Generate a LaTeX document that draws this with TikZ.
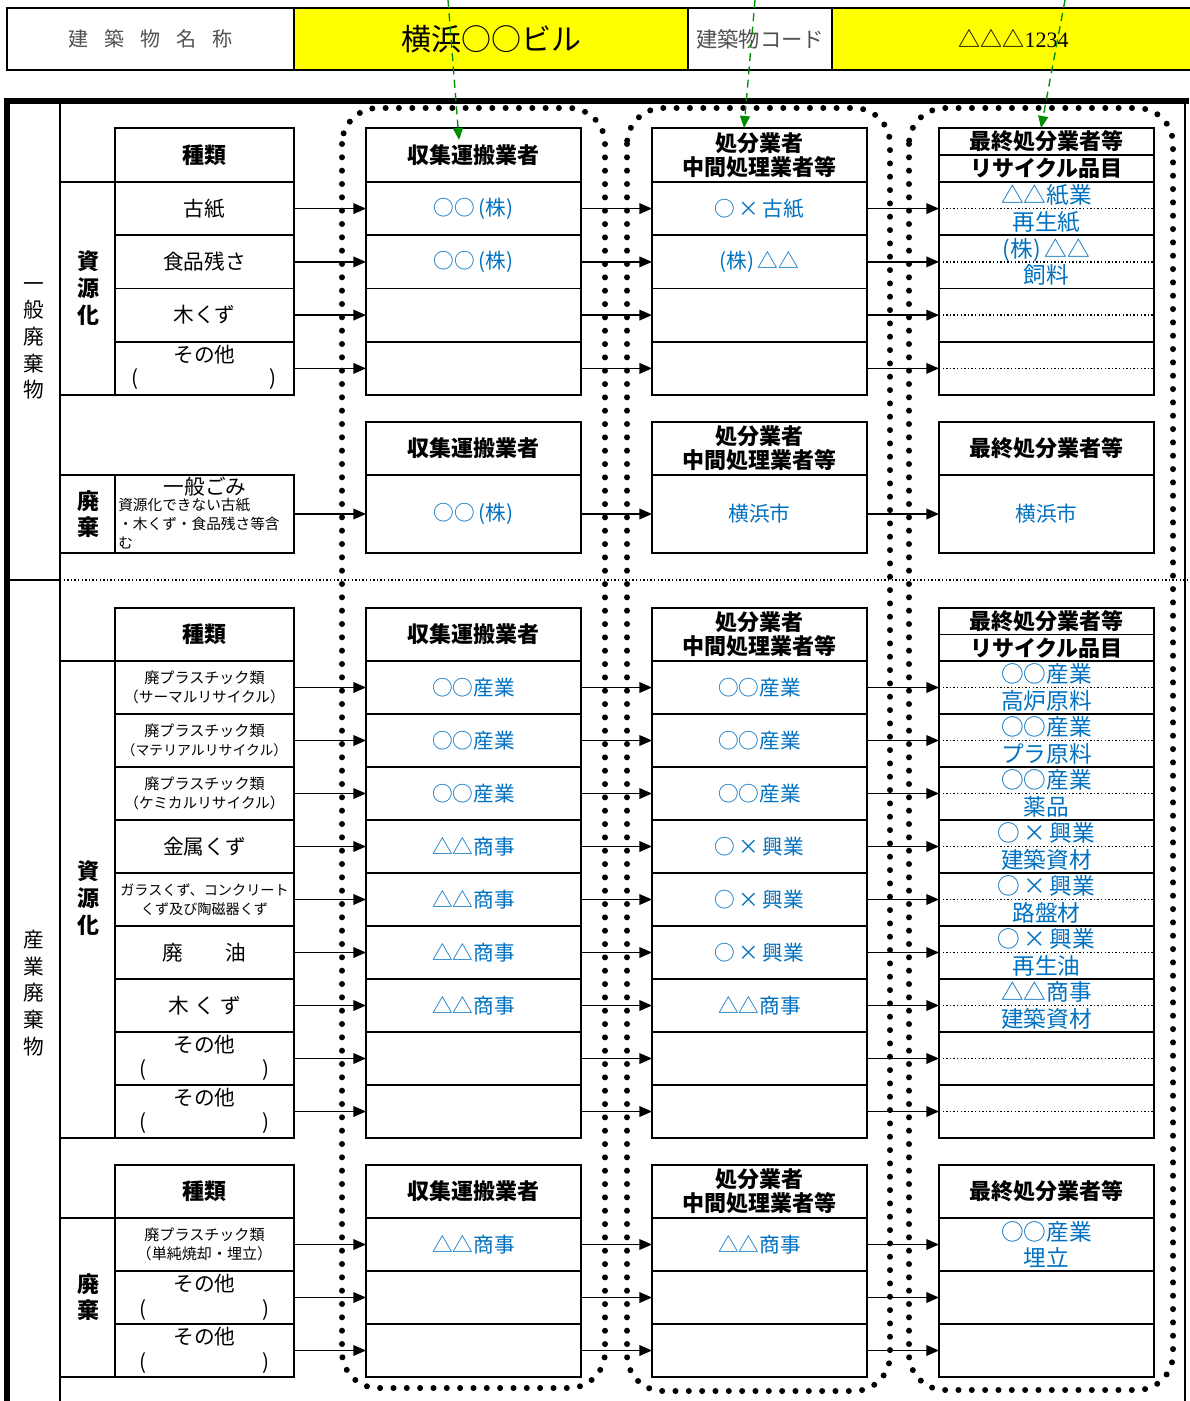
\documentclass[tikz,border=0pt]{standalone}
\usepackage{fontspec}
\setmainfont{Noto Sans CJK JP}
\newfontfamily\serifdigits{Liberation Serif}
\usetikzlibrary{arrows.meta}
\definecolor{jblue}{RGB}{0,112,192}
\definecolor{jgreen}{RGB}{0,140,0}
\definecolor{jyellow}{RGB}{255,255,0}
\definecolor{jgray}{RGB}{80,80,80}
\newcommand{\kb}{(株)}
\newcommand{\mx}{\hspace{2.5pt}×\hspace{2.5pt}}
\begin{document}
\begin{tikzpicture}[x=0.75pt,y=-0.75pt,
  tbl/.style={draw, line width=1.4pt, inner sep=0pt, outer sep=0pt, align=center, font=\fontsize{15.5}{19}\selectfont},
  tcol/.style={tbl, minimum width=134.25pt},
  ocol/.style={tbl, minimum width=161.25pt},
  rA/.style={minimum height=39.94pt},
  rn/.style={minimum height=39.75pt},
  rh/.style={minimum height=40.5pt},
  rB/.style={minimum height=58.5pt},
  hd/.style={font=\bfseries\fontsize{16.5}{18}\selectfont},
  hd2/.style={font=\bfseries\fontsize{16.5}{20.25}\selectfont},
  bl/.style={text=jblue},
  bl2/.style={text=jblue, font=\fontsize{17}{19.9}\selectfont},
  sm/.style={font=\fontsize{11.3}{14.25}\selectfont},
  midline/.style={line width=1pt, dash pattern=on 1.1pt off 1.6pt},
  flow/.style={line width=1.1pt, -{Triangle[length=9.5pt,width=8pt]}},
  dotframe/.style={line width=4.5pt, dash pattern=on 0pt off 10pt, line cap=round, rounded corners=27pt},
  gflow/.style={jgreen, line width=1pt, dash pattern=on 6pt off 4pt, -{Triangle[length=9pt,width=7.5pt]}},
  lbl/.style={inner sep=0pt, align=center, font=\fontsize{15.5}{20}\selectfont},
  vlb/.style={inner sep=0pt, align=center, font=\bfseries\fontsize{16.5}{20}\selectfont},
  hcell/.style={draw, line width=1.4pt, inner sep=0pt, outer sep=0pt, minimum height=46.5pt, align=center}
]
\useasboundingbox (0,0) rectangle (1189,1401);

% ---------- header ----------
\node[hcell, minimum width=215.25pt, text=jgray, font=\fontsize{15}{18}\selectfont] (hName) at (150.5,39) {建\hspace{12pt}築\hspace{12pt}物\hspace{12pt}名\hspace{12pt}称};
\node[hcell, minimum width=295.5pt, fill=jyellow, font=\fontsize{22.5}{26}\selectfont] (hNameV) at (491,39) {横浜○○ビル};
\node[hcell, minimum width=108pt, text=jgray, font=\fontsize{16}{18}\selectfont] (hCode) at (760,39) {建築物コード};
\node[hcell, minimum width=272.25pt, fill=jyellow, font=\fontsize{16.5}{18}\selectfont] (hCodeV) at (1013.5,39) {△△△{\serifdigits 1234}};

% ---------- outer frame ----------
\draw[line width=3.8pt] (7,1401) -- (7,101) -- (1189,101);
\draw[line width=1.4pt] (60,101) -- (60,1401);
\draw[line width=1.4pt] (1185,101) -- (1185,1401);
\draw[line width=1.4pt] (7,580) -- (60,580);
\draw[midline] (60,580) -- (1189,580);

% ---------- dotted groups ----------
\draw[dotframe] (342,108) rectangle (605,1388);
\draw[dotframe] (627,108) rectangle (890,1391);
\draw[dotframe] (909,108) rectangle (1173,1390);

% ---------- left labels ----------
\node[lbl] (gIppan) at (34,341) {一\\般\\廃\\棄\\物};
\node[lbl] (gSangyo) at (34,993) {産\\業\\廃\\棄\\物};
\node[vlb] (sA) at (88,288) {資\\源\\化};
\node[vlb] (sB) at (88,514) {廃\\棄};
\node[vlb] (sC) at (88,898) {資\\源\\化};
\node[vlb] (sD) at (88,1297) {廃\\棄};
\draw[line width=1.4pt] (60,182) -- (115,182) (60,395) -- (115,395);
\draw[line width=1.4pt] (60,475) -- (115,475) (60,553) -- (115,553);
\draw[line width=1.4pt] (60,661) -- (115,661) (60,1138) -- (115,1138);
\draw[line width=1.4pt] (60,1218) -- (115,1218) (60,1377) -- (115,1377);

% ---------- section A ----------
\node[tcol,rh,hd] (tA0) at (204.5,155) {種類};
\node[ocol,rh,hd] (cA0) at (473.5,155) {収集運搬業者};
\node[ocol,rh,hd] (pA0) at (759.5,155) {処分業者\\中間処理業者等};
\node[ocol,rh,hd2] (fA0) at (1046.5,155) {最終処分業者等\\リサイクル品目};
\draw[line width=0.8pt] (fA0.west) -- (fA0.east);

\node[tcol,rA] (tA1) at (204.5,208.6) {古紙};
\node[ocol,rA,bl] (cA1) at (473.5,208.6) {○○\,\kb};
\node[ocol,rA,bl] (pA1) at (759.5,208.6) {○\mx 古紙};
\node[ocol,rA,bl2] (fA1) at (1046.5,208.6) {△△紙業\\再生紙};
\node[tcol,rA] (tA2) at (204.5,261.9) {食品残さ};
\node[ocol,rA,bl] (cA2) at (473.5,261.9) {○○\,\kb};
\node[ocol,rA,bl] (pA2) at (759.5,261.9) {\kb\,△△};
\node[ocol,rA,bl2] (fA2) at (1046.5,261.9) {\kb\,△△\\飼料};
\node[tcol,rA] (tA3) at (204.5,315.1) {木くず};
\node[ocol,rA] (cA3) at (473.5,315.1) {};
\node[ocol,rA] (pA3) at (759.5,315.1) {};
\node[ocol,rA] (fA3) at (1046.5,315.1) {};
\node[tcol,rA] (tA4) at (204.5,368.4) {};
\node[ocol,rA] (cA4) at (473.5,368.4) {};
\node[ocol,rA] (pA4) at (759.5,368.4) {};
\node[ocol,rA] (fA4) at (1046.5,368.4) {};
\node[lbl] (tA4a) at (204.5,355) {その他};
\node[lbl] (tA4b) at (135,379) {(};
\node[lbl] (tA4c) at (273,379) {)};
\foreach \i in {1,...,4} {
  \draw[midline] (fA\i.west) -- (fA\i.east);
  \draw[flow] (tA\i.east) -- (cA\i.west);
  \draw[flow] (cA\i.east) -- (pA\i.west);
  \draw[flow] (pA\i.east) -- (fA\i.west);
}

% ---------- section B ----------
\node[ocol,rn,hd] (cB0) at (473.5,448.5) {収集運搬業者};
\node[ocol,rn,hd] (pB0) at (759.5,448.5) {処分業者\\中間処理業者等};
\node[ocol,rn,hd] (fB0) at (1046.5,448.5) {最終処分業者等};
\node[tcol,rB] (tB1) at (204.5,514) {};
\node[ocol,rB,bl] (cB1) at (473.5,514) {○○\,\kb};
\node[ocol,rB,bl] (pB1) at (759.5,514) {横浜市};
\node[ocol,rB,bl] (fB1) at (1046.5,514) {横浜市};
\node[lbl] (tB1a) at (205,487) {一般ごみ};
\node[anchor=north west, inner sep=0pt, align=left, font=\fontsize{11}{14.25}\selectfont] (tB1b) at (118,498) {資源化できない古紙\\・木くず・食品残さ等含\\む};
\draw[flow] (tB1.east) -- (cB1.west);
\draw[flow] (cB1.east) -- (pB1.west);
\draw[flow] (pB1.east) -- (fB1.west);

% ---------- section C ----------
\node[tcol,rn,hd] (tC0) at (204.5,634.5) {種類};
\node[ocol,rn,hd] (cC0) at (473.5,634.5) {収集運搬業者};
\node[ocol,rn,hd] (pC0) at (759.5,634.5) {処分業者\\中間処理業者等};
\node[ocol,rn,hd2] (fC0) at (1046.5,634.5) {最終処分業者等\\リサイクル品目};
\draw[line width=0.8pt] (fC0.west) -- (fC0.east);

\node[tcol,rn,sm] (tC1) at (204.5,687.5) {廃プラスチック類\\{\fontsize{11}{14}\selectfont（サーマルリサイクル）}};
\node[tcol,rn,sm] (tC2) at (204.5,740.5) {廃プラスチック類\\{\fontsize{10.4}{14}\selectfont（マテリアルリサイクル）}};
\node[tcol,rn,sm] (tC3) at (204.5,793.5) {廃プラスチック類\\{\fontsize{11}{14}\selectfont（ケミカルリサイクル）}};
\node[tcol,rn] (tC4) at (204.5,846.5) {金属くず};
\node[tcol,rn,font=\fontsize{10.6}{14.25}\selectfont] (tC5) at (204.5,899.5) {ガラスくず、コンクリート\\くず及び陶磁器くず};
\node[tcol,rn] (tC6) at (204.5,952.5) {廃\hspace{32pt}油};
\node[tcol,rn] (tC7) at (204.5,1005.5) {木\hspace{4pt}く\hspace{4pt}ず};
\node[tcol,rn] (tC8) at (204.5,1058.5) {};
\node[tcol,rn] (tC9) at (204.5,1111.5) {};
\node[lbl] (tC8a) at (204.5,1045) {その他};
\node[lbl] (tC8b) at (143,1070) {(};
\node[lbl] (tC8c) at (266,1070) {)};
\node[lbl] (tC9a) at (204.5,1098) {その他};
\node[lbl] (tC9b) at (143,1123) {(};
\node[lbl] (tC9c) at (266,1123) {)};

\node[ocol,rn,bl] (cC1) at (473.5,687.5) {○○産業};
\node[ocol,rn,bl] (cC2) at (473.5,740.5) {○○産業};
\node[ocol,rn,bl] (cC3) at (473.5,793.5) {○○産業};
\node[ocol,rn,bl] (cC4) at (473.5,846.5) {△△商事};
\node[ocol,rn,bl] (cC5) at (473.5,899.5) {△△商事};
\node[ocol,rn,bl] (cC6) at (473.5,952.5) {△△商事};
\node[ocol,rn,bl] (cC7) at (473.5,1005.5) {△△商事};
\node[ocol,rn] (cC8) at (473.5,1058.5) {};
\node[ocol,rn] (cC9) at (473.5,1111.5) {};

\node[ocol,rn,bl] (pC1) at (759.5,687.5) {○○産業};
\node[ocol,rn,bl] (pC2) at (759.5,740.5) {○○産業};
\node[ocol,rn,bl] (pC3) at (759.5,793.5) {○○産業};
\node[ocol,rn,bl] (pC4) at (759.5,846.5) {○\mx 興業};
\node[ocol,rn,bl] (pC5) at (759.5,899.5) {○\mx 興業};
\node[ocol,rn,bl] (pC6) at (759.5,952.5) {○\mx 興業};
\node[ocol,rn,bl] (pC7) at (759.5,1005.5) {△△商事};
\node[ocol,rn] (pC8) at (759.5,1058.5) {};
\node[ocol,rn] (pC9) at (759.5,1111.5) {};

\node[ocol,rn,bl2] (fC1) at (1046.5,687.5) {○○産業\\高炉原料};
\node[ocol,rn,bl2] (fC2) at (1046.5,740.5) {○○産業\\プラ原料};
\node[ocol,rn,bl2] (fC3) at (1046.5,793.5) {○○産業\\薬品};
\node[ocol,rn,bl2] (fC4) at (1046.5,846.5) {○\mx 興業\\建築資材};
\node[ocol,rn,bl2] (fC5) at (1046.5,899.5) {○\mx 興業\\路盤材};
\node[ocol,rn,bl2] (fC6) at (1046.5,952.5) {○\mx 興業\\再生油};
\node[ocol,rn,bl2] (fC7) at (1046.5,1005.5) {△△商事\\建築資材};
\node[ocol,rn] (fC8) at (1046.5,1058.5) {};
\node[ocol,rn] (fC9) at (1046.5,1111.5) {};
\foreach \i in {1,...,9} {
  \draw[midline] (fC\i.west) -- (fC\i.east);
  \draw[flow] (tC\i.east) -- (cC\i.west);
  \draw[flow] (cC\i.east) -- (pC\i.west);
  \draw[flow] (pC\i.east) -- (fC\i.west);
}

% ---------- section D ----------
\node[tcol,rn,hd] (tD0) at (204.5,1191.5) {種類};
\node[ocol,rn,hd] (cD0) at (473.5,1191.5) {収集運搬業者};
\node[ocol,rn,hd] (pD0) at (759.5,1191.5) {処分業者\\中間処理業者等};
\node[ocol,rn,hd] (fD0) at (1046.5,1191.5) {最終処分業者等};

\node[tcol,rn,sm] (tD1) at (204.5,1244.5) {廃プラスチック類\\（単純焼却・埋立）};
\node[tcol,rn] (tD2) at (204.5,1297.5) {};
\node[tcol,rn] (tD3) at (204.5,1350.5) {};
\node[lbl] (tD2a) at (204.5,1284) {その他};
\node[lbl] (tD2b) at (143,1310) {(};
\node[lbl] (tD2c) at (266,1310) {)};
\node[lbl] (tD3a) at (204.5,1337) {その他};
\node[lbl] (tD3b) at (143,1363) {(};
\node[lbl] (tD3c) at (266,1363) {)};
\node[ocol,rn,bl] (cD1) at (473.5,1244.5) {△△商事};
\node[ocol,rn] (cD2) at (473.5,1297.5) {};
\node[ocol,rn] (cD3) at (473.5,1350.5) {};
\node[ocol,rn,bl] (pD1) at (759.5,1244.5) {△△商事};
\node[ocol,rn] (pD2) at (759.5,1297.5) {};
\node[ocol,rn] (pD3) at (759.5,1350.5) {};
\node[ocol,rn,bl2] (fD1) at (1046.5,1244.5) {○○産業\\埋立};
\node[ocol,rn] (fD2) at (1046.5,1297.5) {};
\node[ocol,rn] (fD3) at (1046.5,1350.5) {};
\foreach \i in {1,...,3} {
  \draw[flow] (tD\i.east) -- (cD\i.west);
  \draw[flow] (cD\i.east) -- (pD\i.west);
  \draw[flow] (pD\i.east) -- (fD\i.west);
}

% ---------- green pointers ----------
\coordinate (g1s) at (448,0);
\coordinate (g1e) at (459,140);
\coordinate (g2s) at (755,0);
\coordinate (g2e) at (744,128);
\coordinate (g3s) at (1065,0);
\coordinate (g3e) at (1041,128);
\draw[gflow] (g1s) -- (g1e);
\draw[gflow] (g2s) -- (g2e);
\draw[gflow] (g3s) -- (g3e);
\end{tikzpicture}
\end{document}
